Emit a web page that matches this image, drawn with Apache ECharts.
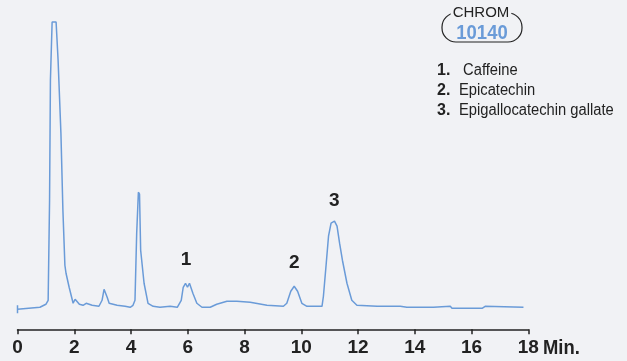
<!DOCTYPE html>
<html><head><meta charset="utf-8">
<script src="https://cdn.jsdelivr.net/npm/echarts@6/dist/echarts.min.js"></script>
<style>html,body{margin:0;padding:0;background:#f1f2f5;}#c{width:627px;height:361px;}</style>
</head><body><div id="c"></div>
<script>
// retention time (min) and detector response (arbitrary units)
const times = [0,0,0,0.79,1.00,1.08,1.13,1.16,1.22,1.36,1.43,1.53,1.60,1.67,1.71,1.82,1.96,2.03,2.10,2.18,2.31,2.42,2.49,2.63,2.87,2.98,3.05,3.16,3.23,3.51,3.79,3.97,4.07,4.14,4.20,4.26,4.30,4.34,4.46,4.60,4.78,5.02,5.38,5.63,5.77,5.84,5.92,5.99,6.06,6.18,6.32,6.50,6.79,7.02,7.38,7.73,8.20,8.79,9.37,9.49,9.63,9.75,9.87,10.02,10.20,10.73,10.78,10.88,10.96,11.05,11.17,11.26,11.35,11.45,11.61,11.78,11.96,12.67,13.49,13.72,14.66,14.72,15.25,15.31,16.37,16.48,17.83];
const signal = [24,16,20,22,25,29,129,249,307,307,269,196,119,64,56,42,26,30,31,25,24,26,26,24,23,29,40,32,26,24,23,22,24,29,96,137,135,79,46,26,23,22,23,22,29,42,46,42,46,36,26,22,22,25,28,28,27,24,23,26,38,43,38,26,23,23,33,66,93,106,108,103,86,69,46,29,24,23,23,22,22,23,23,21,21,23,22];
const peakLabels = ['1','2','3'];
const peakLabelTimes = [5.94,9.75,11.16];
const peakLabelLevels = [69,66,128];
const xTicks = [0,2,4,6,8,10,12,14,16,18];
const compoundNums = ['1.','2.','3.'];
const compoundNames = [' Caffeine','Epicatechin','Epigallocatechin gallate'];
const chromNo = '10140';

const FONT = "'Liberation Sans',Arial,sans-serif";
const BG = '#f1f2f5';
const INK = '#222222';
const BLUE = '#6a9bd8';

const chart = echarts.init(document.getElementById('c'));
const graphics = [
  {type:'rect', shape:{x:442,y:13,width:80,height:29,r:14}, style:{fill:'none',stroke:INK,lineWidth:1.2}},
  {type:'text', x:481, y:13, style:{text:'CHROM',fill:INK,font:'15px '+FONT,align:'center',verticalAlign:'middle',backgroundColor:BG,padding:[0,2]}},
  {type:'text', x:482, y:33, scaleX:0.88, style:{text:chromNo,fill:BLUE,font:'bold 21px '+FONT,align:'center',verticalAlign:'middle'}},
  {type:'text', left:543, top:338, scaleX:0.92, style:{text:'Min.',fill:INK,font:'bold 20px '+FONT}}
];
compoundNums.forEach((n,i)=>{
  graphics.push({type:'text', x:437, y:71+i*20, style:{text:n,fill:INK,font:'bold 16px '+FONT,verticalAlign:'middle'}});
  graphics.push({type:'text', x:459, y:71+i*20, scaleX:0.92, style:{text:compoundNames[i],fill:INK,font:'16px '+FONT,verticalAlign:'middle'}});
});

chart.setOption({
  backgroundColor: BG,
  animation:false,
  grid:{left:17.5,right:98.7,top:9,bottom:31.7},
  xAxis:{type:'value',min:0,max:18,interval:2,
    axisLine:{show:true,lineStyle:{color:INK,width:1.5}},
    axisTick:{show:true,length:5,lineStyle:{color:INK,width:1.5}},
    axisLabel:{color:INK,fontFamily:FONT,fontWeight:'bold',fontSize:19,margin:9,
      formatter:v=>xTicks.includes(v)?String(v):''},
    splitLine:{show:false}},
  yAxis:{type:'value',min:0,max:320,show:false,splitLine:{show:false}},
  series:[
    {type:'line',data:times.map((t,i)=>[t,signal[i]]),symbol:'none',smooth:false,
     lineStyle:{color:BLUE,width:1.5},clip:false},
    {type:'scatter',data:peakLabelTimes.map((t,i)=>({value:[t,peakLabelLevels[i]],name:peakLabels[i]})),
     symbolSize:1,itemStyle:{color:'rgba(0,0,0,0)',opacity:1},
     label:{show:true,position:'inside',formatter:p=>p.name,color:INK,opacity:1,fontFamily:FONT,fontWeight:'bold',fontSize:19}}
  ],
  graphic:graphics
});
</script></body></html>
